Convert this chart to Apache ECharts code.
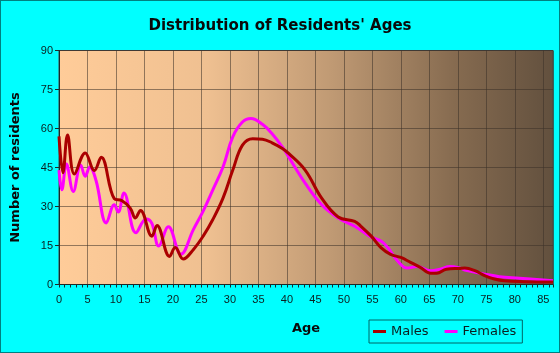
<!DOCTYPE html>
<html>
<head>
<meta charset="utf-8">
<script src="https://cdn.jsdelivr.net/npm/echarts@6/dist/echarts.min.js"></script>
<style>
    html, body { margin: 0; padding: 0; background: #00ffff; }
    #cn { width: 560px; height: 353px; box-sizing: border-box; border: 1px solid #008080; }
</style>
</head>
<body>
<div id="cn"></div>
<script>
'use strict';

// [age, residents]
const arrMales = [
    [0, 57], [0.7, 43], [1.5, 57.5], [2.7, 42.5], [4.6, 50.6], [6.2, 43.8], [7.4, 48.9],
    [9.7, 33], [11, 32.3], [12.5, 29.4], [13.4, 25.6], [14.3, 28.5], [16.3, 18.6], [17.2, 22.7],
    [19.4, 10.8], [20.4, 14.2], [21.8, 9.8], [23.6, 13.5], [25.3, 18.6], [27, 25], [28.8, 33.3],
    [30.5, 44], [32.2, 53.6], [34, 56.1], [35.7, 55.9], [37.4, 54.5], [39.2, 52.3], [40.3, 50.4],
    [43.2, 44], [46.1, 33.2], [49, 26], [51.9, 24.3], [53, 22.4], [54.8, 18.6], [56.5, 14.2],
    [58.2, 11.6], [60, 10.4], [61.7, 8.5], [63.4, 6.6], [65.2, 4.3], [66.3, 4.3], [68, 5.9],
    [70.4, 6.2], [71.2, 6.3], [73, 5.3], [74.7, 3.4], [76.4, 2.1], [78.2, 1.4], [81.6, 1.1], [86.7, 1.0]
];
const arrFemales = [
    [0, 44], [0.5, 36.4], [1.3, 46.3], [2.5, 35.8], [3.8, 46], [4.6, 41.6], [5.4, 45.2], [6.5, 40],
    [8.3, 23.7], [9.7, 30.7], [10.4, 27.9], [11.4, 35.2], [13.5, 19.9], [15.3, 25.2], [16.3, 23.5],
    [17.5, 14.8], [19.2, 22.2], [21.4, 11.6], [23.6, 21.2], [25.3, 28.2], [27, 36.4], [28.8, 45.3],
    [30.5, 56.8], [32.2, 62.5], [33.7, 63.8], [35.7, 61.6], [37.4, 58], [39.2, 52.9], [40.3, 49.1],
    [43.2, 39], [46.1, 30.7], [49, 25.6], [51.9, 22.4], [54.8, 18.2], [56.5, 16.7], [57.7, 14.2],
    [59.4, 9.1], [61.1, 6.3], [62.8, 6.9], [65.2, 5.3], [66.9, 5.9], [68.6, 6.9], [70.4, 6.3],
    [71.2, 5.6], [74.7, 4.0], [77.3, 3.0], [80.8, 2.4], [86.7, 1.4]
];
const arrSeriesNames = ['Males', 'Females'];

const strFont = 'Liberation Sans, Arial, sans-serif';
const strText = '#0b1f1f';
const strGrid = 'rgba(60,50,40,0.55)';

const chart = echarts.init(document.getElementById('cn'));

const option = {
    animation: false,
    backgroundColor: '#00ffff',
    title: {
        text: 'Distribution of Residents\' Ages',
        left: 'center',
        top: 13,
        textStyle: {
            fontFamily: 'DejaVu Sans, sans-serif',
            fontSize: 15,
            fontWeight: 'bold',
            color: '#0a0a0a'
        }
    },
    legend: {
        data: arrSeriesNames,
        left: 368,
        top: 319,
        orient: 'horizontal',
        borderColor: '#006666',
        borderWidth: 1,
        padding: [5, 6, 5, 4],
        itemGap: 16,
        itemWidth: 13,
        itemHeight: 3,
        icon: 'rect',
        textStyle: {
            fontFamily: 'DejaVu Sans, sans-serif',
            fontSize: 13,
            color: strText
        }
    },
    grid: {
        left: 54,
        right: 6,
        top: 49.5,
        bottom: 67.5,
        show: true,
        borderColor: '#444',
        borderWidth: 1,
        backgroundColor: new echarts.graphic.LinearGradient(0, 0, 1, 0, [
            { offset: 0, color: '#ffcc99' },
            { offset: 0.3, color: '#efc091' },
            { offset: 0.55, color: '#c09a74' },
            { offset: 0.8, color: '#866b50' },
            { offset: 1, color: '#62503e' }
        ])
    },
    xAxis: {
        type: 'value',
        min: 0,
        max: 86.7,
        interval: 5,
        name: 'Age',
        nameLocation: 'middle',
        nameGap: 38,
        nameTextStyle: {
            fontFamily: 'DejaVu Sans, sans-serif',
            fontSize: 13,
            fontWeight: 'bold',
            color: '#0a0a0a'
        },
        axisLine: { show: true, lineStyle: { color: '#1a2a2a', width: 1 } },
        axisTick: { show: true, length: 3, lineStyle: { color: '#1a2a2a' } },
        minorTick: { show: true, splitNumber: 5, length: 3, lineStyle: { color: '#1a2a2a' } },
        axisLabel: {
            margin: 10,
            fontFamily: strFont,
            fontSize: 11,
            color: strText,
            showMaxLabel: false
        },
        splitLine: { show: true, lineStyle: { color: strGrid, width: 1 } }
    },
    yAxis: {
        type: 'value',
        min: 0,
        max: 90,
        interval: 15,
        name: 'Number of residents',
        nameLocation: 'middle',
        nameGap: 37,
        nameTextStyle: {
            fontFamily: 'DejaVu Sans, sans-serif',
            fontSize: 13,
            fontWeight: 'bold',
            color: '#0a0a0a'
        },
        axisLine: { show: true, lineStyle: { color: '#1a2a2a', width: 1 } },
        axisTick: { show: true, length: 4, lineStyle: { color: '#1a2a2a' } },
        axisLabel: {
            margin: 6,
            fontFamily: strFont,
            fontSize: 11,
            color: strText
        },
        splitLine: { show: true, lineStyle: { color: strGrid, width: 1 } }
    },
    series: [{
            name: arrSeriesNames[0],
            type: 'line',
            smooth: 0.4,
            showSymbol: false,
            lineStyle: { width: 3, color: '#aa0000' },
            itemStyle: { color: '#aa0000' },
            data: arrMales,
            z: 3
        },
        {
            name: arrSeriesNames[1],
            type: 'line',
            smooth: 0.4,
            showSymbol: false,
            lineStyle: { width: 3, color: '#ff00ff' },
            itemStyle: { color: '#ff00ff' },
            data: arrFemales,
            z: 2
        }
    ]
};

chart.setOption(option);
</script>
</body>
</html>
